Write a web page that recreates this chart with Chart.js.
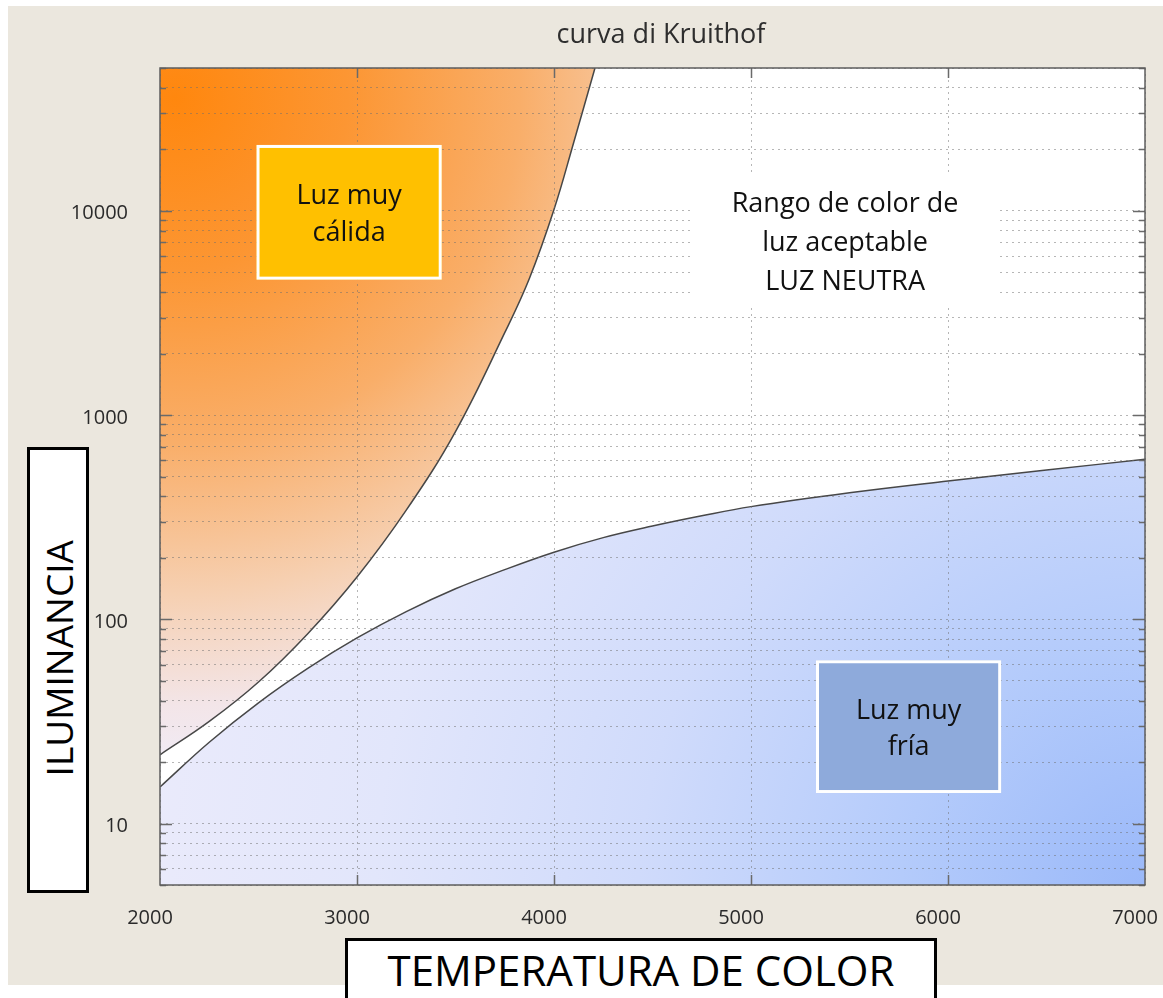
<!DOCTYPE html>
<html>
<head>
<meta charset="utf-8">
<title>curva di Kruithof</title>
<script src="https://cdn.jsdelivr.net/npm/chart.js@4.4.0/dist/chart.umd.min.js"></script>
<style>
  html, body { margin: 0; padding: 0; width: 1163px; height: 998px; overflow: hidden; background: #fff; font-family: 'Open Sans', sans-serif; }
  #panel { position: absolute; left: 8px; top: 6px; width: 1155px; height: 979px; background: #ebe7de; }
  #chart { position: absolute; left: 0; top: 0; }
  .axis-box { position: absolute; box-sizing: border-box; border: 3px solid #000; background: #fff; color: #000; }
  #y-title { left: 27px; top: 447px; width: 62px; height: 446px; display: flex; align-items: center; justify-content: center; padding-bottom: 24px; }
  #y-title span { writing-mode: vertical-rl; transform: rotate(180deg); font-size: 37px; line-height: 37px; }
  #x-title { left: 345px; top: 938px; width: 592px; height: 75px; text-align: center; font-size: 42px; line-height: 42px; padding-top: 8px; }
</style>
</head>
<body>
<div id="panel"></div>
<canvas id="chart" width="1163" height="998"></canvas>
<div id="y-title" class="axis-box"><span>ILUMINANCIA</span></div>
<div id="x-title" class="axis-box">TEMPERATURA DE COLOR</div>

<script>
// Axis ticks
const xTickLabels = [2000, 3000, 4000, 5000, 6000, 7000];
const yTickLabels = [10, 100, 1000, 10000];
const yDecades = [1, 10, 100, 1000, 10000];
const ySteps = [1, 2, 3, 4, 5, 6, 7, 8, 9];

// Upper limit of the comfortable range (too warm above / left of it)
const warmTemp = [2000, 2250, 2500, 2750, 3000, 3250, 3500, 3750, 3875, 4000, 4100, 4208];
const warmLux = [21.7, 31.6, 49.3, 85, 161, 342, 830, 2530, 4660, 10140, 21600, 50000];

// Lower limit of the comfortable range (too cold below it)
const coldTemp = [2000, 2250, 2500, 2750, 3000, 3250, 3500, 3750, 4000, 4250, 4500, 4750, 5000, 5500, 6000, 6500, 7000];
const coldLux = [15.1, 25, 39, 57.5, 81, 109, 141, 175, 213, 251, 286, 321, 356, 416, 475, 538, 607];

const yGridValues = yDecades
  .flatMap(d => ySteps.map(s => d * s))
  .filter(v => v >= 5 && v <= 50000);

// Text boxes inside the plot, in axis units: [xFrom, xTo, yTop, yBottom]
const notes = [
  { area: [2490, 3430, 21000, 4600], fill: '#ffc000', stroke: '#ffffff', lines: ['Luz muy', 'cálida'], lineHeight: 37 },
  { area: [4705, 6250, 15000, 3400], fill: '#ffffff', stroke: null, lines: ['Rango de color de', 'luz aceptable', 'LUZ NEUTRA'], lineHeight: 39 },
  { area: [5330, 6270, 63, 14.1], fill: '#8eaadb', stroke: '#ffffff', lines: ['Luz muy', 'fría'], lineHeight: 36 }
];

const FONT = "'Open Sans', sans-serif";
const gridColor = 'rgba(110, 110, 110, 0.5)';

function warmFill(context) {
  const { ctx, chartArea } = context.chart;
  if (!chartArea) return null;
  const g = ctx.createRadialGradient(chartArea.left + 15, chartArea.top + 30, 0,
                                     chartArea.left + 15, chartArea.top + 30, 690);
  g.addColorStop(0, '#ff870e');
  g.addColorStop(0.25, '#fc9633');
  g.addColorStop(0.5, '#f9ae69');
  g.addColorStop(0.72, '#f6d0b2');
  g.addColorStop(0.88, '#f3e5e8');
  g.addColorStop(1, '#efeefb');
  return g;
}

function coldFill(context) {
  const { ctx, chartArea } = context.chart;
  if (!chartArea) return null;
  const g = ctx.createRadialGradient(chartArea.right + 18, chartArea.bottom + 15, 0,
                                     chartArea.right + 18, chartArea.bottom + 15, 1050);
  g.addColorStop(0, '#98b7f9');
  g.addColorStop(0.25, '#b4cbfb');
  g.addColorStop(0.5, '#d0dbfb');
  g.addColorStop(0.75, '#e2e6fb');
  g.addColorStop(1, '#ebebfb');
  return g;
}

// White plot background
const plotBackground = {
  id: 'plotBackground',
  beforeDraw(chart) {
    const { ctx, chartArea: a } = chart;
    ctx.save();
    ctx.fillStyle = '#ffffff';
    ctx.fillRect(a.left, a.top, a.right - a.left, a.bottom - a.top);
    ctx.restore();
  }
};

// Frame, inner tick marks, text boxes and title
const decorations = {
  id: 'decorations',
  afterDraw(chart) {
    const { ctx, chartArea: a } = chart;
    const xs = chart.scales.x;
    const ys = chart.scales.y;
    ctx.save();

    // tick marks pointing inwards
    ctx.strokeStyle = '#6a6a6a';
    ctx.lineWidth = 1.5;
    ctx.beginPath();
    ys.ticks.forEach(t => {
      const py = Math.round(ys.getPixelForValue(t.value)) + 0.5;
      const len = yTickLabels.includes(t.value) ? 12 : 6;
      ctx.moveTo(a.left, py); ctx.lineTo(a.left + len, py);
      ctx.moveTo(a.right - len, py); ctx.lineTo(a.right, py);
    });
    xs.ticks.forEach(t => {
      if (t.value === xs.min || t.value === xs.max) return;
      const px = Math.round(xs.getPixelForValue(t.value)) + 0.5;
      ctx.moveTo(px, a.bottom); ctx.lineTo(px, a.bottom - 10);
      ctx.moveTo(px, a.top); ctx.lineTo(px, a.top + 10);
    });
    ctx.stroke();

    // frame
    ctx.strokeStyle = '#5e5e5e';
    ctx.lineWidth = 1.5;
    ctx.strokeRect(a.left, a.top, a.right - a.left, a.bottom - a.top);

    // labelled boxes
    notes.forEach(n => {
      const x0 = xs.getPixelForValue(n.area[0]);
      const x1 = xs.getPixelForValue(n.area[1]);
      const y0 = ys.getPixelForValue(n.area[2]);
      const y1 = ys.getPixelForValue(n.area[3]);
      ctx.fillStyle = n.fill;
      ctx.fillRect(x0, y0, x1 - x0, y1 - y0);
      if (n.stroke) {
        ctx.strokeStyle = n.stroke;
        ctx.lineWidth = 3;
        ctx.strokeRect(x0 + 1.5, y0 + 1.5, x1 - x0 - 3, y1 - y0 - 3);
      }
      ctx.fillStyle = '#111111';
      ctx.font = `27px ${FONT}`;
      ctx.textAlign = 'center';
      ctx.textBaseline = 'alphabetic';
      const cx = (x0 + x1) / 2;
      const cy = (y0 + y1) / 2;
      n.lines.forEach((line, i) => {
        const off = (i - (n.lines.length - 1) / 2) * n.lineHeight + 10;
        ctx.fillText(line, cx, cy + off);
      });
    });

    // title
    ctx.fillStyle = '#2e2e2e';
    ctx.font = `27px ${FONT}`;
    ctx.textAlign = 'center';
    ctx.fillText('curva di Kruithof', 661, 43);
    ctx.restore();
  }
};

const curveStyle = {
  borderColor: '#474747',
  borderWidth: 1.5,
  pointRadius: 0,
  tension: 0.4
};

new Chart(document.getElementById('chart'), {
  type: 'line',
  data: {
    datasets: [
      {
        label: 'Luz muy cálida',
        data: warmTemp.map((t, i) => ({ x: t, y: warmLux[i] })),
        fill: 'end',
        backgroundColor: warmFill,
        ...curveStyle
      },
      {
        label: 'Luz muy fría',
        data: coldTemp.map((t, i) => ({ x: t, y: coldLux[i] })),
        fill: 'start',
        backgroundColor: coldFill,
        ...curveStyle
      }
    ]
  },
  options: {
    responsive: false,
    animation: false,
    devicePixelRatio: 1,
    layout: { padding: { top: 68, right: 18, left: 0, bottom: 0 } },
    plugins: {
      legend: { display: false },
      tooltip: { enabled: false },
      title: { display: false }
    },
    scales: {
      x: {
        type: 'linear',
        min: xTickLabels[0],
        max: xTickLabels[xTickLabels.length - 1],
        afterBuildTicks: s => { s.ticks = xTickLabels.map(v => ({ value: v })); },
        ticks: {
          autoSkip: false,
          maxRotation: 0,
          padding: 21,
          labelOffset: -10,
          color: '#2a2a2a',
          font: { family: FONT, size: 20 },
          callback: v => String(v)
        },
        grid: { color: gridColor, lineWidth: 1, drawTicks: false, z: 1 },
        border: { display: false, dash: [2, 4] },
        afterFit: s => { s.height = 113; s.paddingLeft = 0; s.paddingRight = 0; }
      },
      y: {
        type: 'logarithmic',
        min: 5,
        max: 50000,
        afterBuildTicks: s => { s.ticks = yGridValues.map(v => ({ value: v })); },
        ticks: {
          autoSkip: false,
          padding: 32,
          labelOffset: 3,
          color: '#2a2a2a',
          font: { family: FONT, size: 20 },
          callback: v => yTickLabels.includes(v) ? String(v) : ''
        },
        grid: { color: gridColor, lineWidth: 1, drawTicks: false, z: 1 },
        border: { display: false, dash: [2, 4] },
        afterFit: s => { s.width = 160; s.paddingTop = 0; s.paddingBottom = 0; }
      }
    }
  },
  plugins: [plotBackground, decorations]
});
</script>
</body>
</html>
